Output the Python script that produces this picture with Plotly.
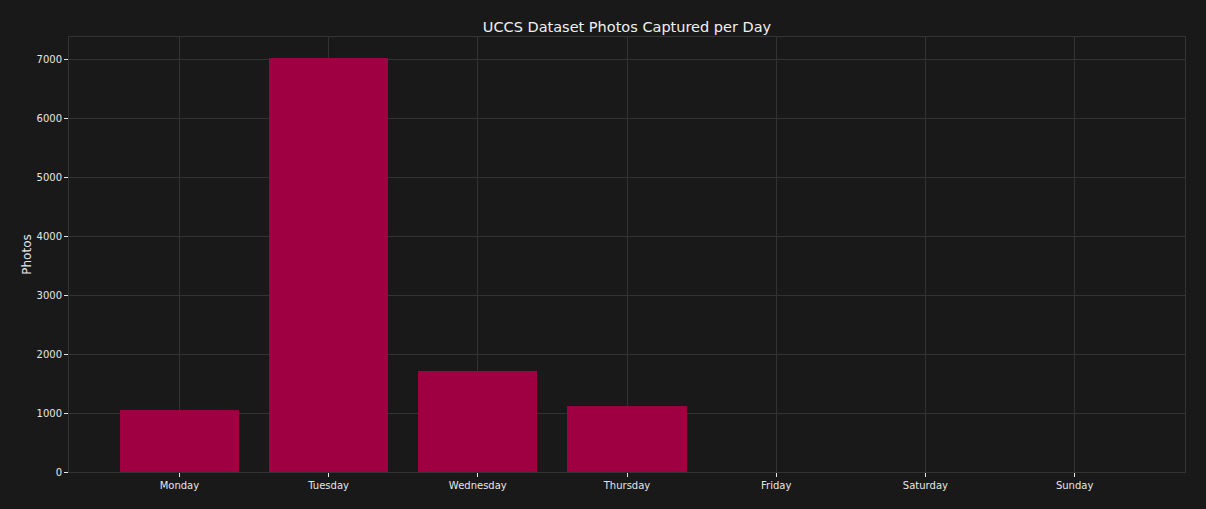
import plotly.graph_objects as go

days = ["Monday", "Tuesday", "Wednesday", "Thursday", "Friday", "Saturday", "Sunday"]
photos = [1053, 7034, 1716, 1121, 0, 0, 0]
y_ticks = [0, 1000, 2000, 3000, 4000, 5000, 6000, 7000]

bg = "#191919"
grid = "#333333"
txt = "#e6e6e6"

fig = go.Figure(go.Bar(x=list(range(len(days))), y=photos, width=0.8,
                       marker=dict(color="#9e0042", line=dict(width=0))))

fig.update_layout(
    width=1206, height=509,
    paper_bgcolor=bg, plot_bgcolor=bg,
    font=dict(family="DejaVu Sans", color=txt, size=10),
    title=dict(text="UCCS Dataset Photos Captured per Day", xref="paper", x=0.5, xanchor="center",
               y=1 - 27 / 509, yanchor="middle", font=dict(size=14.5, color="#f0f0f0")),
    margin=dict(l=69, r=1206 - 1185, t=37, b=509 - 472),
    showlegend=False,
    bargap=0,
)
fig.update_xaxes(range=[-0.74, 6.74], tickvals=list(range(len(days))), ticktext=days,
                 showgrid=True, gridcolor=grid, gridwidth=1,
                 showline=True, linecolor=grid, linewidth=1, mirror=True,
                 ticks="outside", ticklen=4, tickcolor=txt, tickwidth=1,
                 tickfont=dict(size=10, color=txt), zeroline=False)
fig.update_yaxes(range=[0, 7390], tickvals=y_ticks, ticktext=[str(v) for v in y_ticks],
                 showgrid=True, gridcolor=grid, gridwidth=1,
                 showline=True, linecolor=grid, linewidth=1, mirror=True,
                 ticks="outside", ticklen=4, tickcolor=txt, tickwidth=1,
                 tickfont=dict(size=10, color=txt), zeroline=False,
                 title=dict(text="Photos", font=dict(size=12, color=txt), standoff=2))

fig.write_html("out.html", config={"displayModeBar": False},
               post_script="document.body.style.margin='0';document.body.style.background='#191919';")
